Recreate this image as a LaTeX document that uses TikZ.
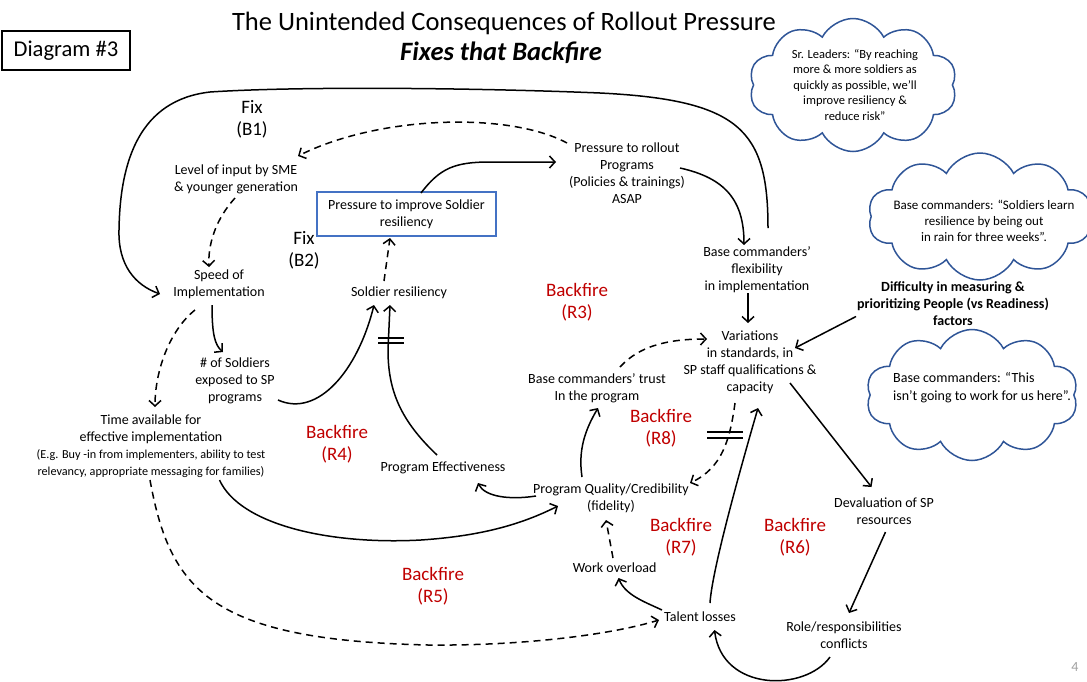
\documentclass[tikz,border=0pt]{standalone}
\usepackage{fontspec}
\setmainfont{Carlito}
\usetikzlibrary{arrows.meta,shapes.symbols}

\definecolor{fbred}{HTML}{C00000}
\definecolor{cloudblue}{HTML}{2F5597}
\definecolor{boxblue}{HTML}{4472C4}
\definecolor{pagegray}{HTML}{A0A0A0}

\tikzset{
  lbl/.style={align=center, inner sep=0pt, font=\fontsize{14}{17}\selectfont},
  looplbl/.style={align=center, inner sep=0pt, text=fbred, font=\fontsize{19}{22}\selectfont},
  fixlbl/.style={align=center, inner sep=0pt, font=\fontsize{19}{22}\selectfont},
  link/.style={line width=1.5pt, -{Straight Barb[length=5.5pt,width=12pt]}},
  opposite/.style={link, dash pattern=on 7pt off 5pt},
  thought/.style={cloud, cloud puffs=10, cloud puff arc=125, aspect=1.6,
    cloud ignores aspect, draw=cloudblue, line width=1.5pt, inner sep=0pt},
  delay/.style={line width=1.5pt},
}

\begin{document}
\begin{tikzpicture}[x=1pt,y=-1pt]
\useasboundingbox (0,0) rectangle (1087,681);

% headings
\node[inner sep=0pt, font=\fontsize{26.5}{30}\selectfont] (title) at (504,23.5)
  {The Unintended Consequences of Rollout Pressure};
\node[inner sep=0pt, font=\fontsize{26.5}{30}\selectfont\bfseries\itshape] (subtitle) at (501,52.5)
  {Fixes that Backfire};
\node[draw, line width=1.2pt, minimum width=128pt, minimum height=39pt,
  font=\fontsize{22.6}{26}\selectfont] (tag) at (66,50.5) {Diagram \#3};

% thought clouds
\node[thought, minimum width=208pt, minimum height=133pt] (cloudA) at (853,85) {};
\node[lbl, font=\fontsize{12.5}{15.5}\selectfont] (cloudAtext) at (855,85)
  {Sr. Leaders: “By reaching\\more \& more soldiers as\\quickly as possible, we’ll\\improve resiliency \&\\reduce risk”};
\node[thought, minimum width=224pt, minimum height=127pt] (cloudB) at (980,216.5) {};
\node[lbl, font=\fontsize{13}{16}\selectfont] (cloudBtext) at (984,221)
  {Base commanders: “Soldiers learn\\resilience by being out\\in rain for three weeks”.};
\node[thought, minimum width=212pt, minimum height=131pt] (cloudC) at (972,395) {};
\node[lbl, align=left, anchor=west, font=\fontsize{14}{18}\selectfont] (cloudCtext) at (893,388)
  {Base commanders: “This\\isn’t going to work for us here”.};

% variables
\node[lbl] (level) at (236,179.5) {Level of input by SME\\\& younger generation};
\node[lbl] (prollout) at (627,173) {Pressure to rollout\\Programs\\(Policies \& trainings)\\ASAP};
\node[lbl, draw=boxblue, line width=1.3pt, minimum width=179pt, minimum height=44pt] (pbox) at (406.5,214)
  {Pressure to improve Soldier\\resiliency};
\node[lbl] (speed) at (219,284.5) {Speed of\\Implementation};
\node[lbl] (soldres) at (399,293) {Soldier resiliency};
\node[lbl] (bcflex) at (757,269.5) {Base commanders’\\flexibility\\in implementation};
\node[lbl] (variations) at (750,362) {Variations\\in standards, in\\SP staff qualifications \&\\capacity};
\node[lbl, font=\fontsize{14}{17}\selectfont\bfseries] (difficulty) at (953,304)
  {Difficulty in measuring \&\\prioritizing People (vs Readiness)\\factors};
\node[lbl] (nsoldiers) at (235,381) {\# of Soldiers\\exposed to SP\\programs};
\node[lbl] (timeavail) at (151,446.5) {Time available for\\effective implementation\\
  {\fontsize{12.2}{16}\selectfont (E.g. Buy -in from implementers, ability to test}\\
  {\fontsize{12.2}{16}\selectfont relevancy, appropriate messaging for families)}};
\node[lbl] (bctrust) at (597,388) {Base commanders’ trust\\In the program};
\node[lbl] (progeff) at (443,468) {Program Effectiveness};
\node[lbl] (progqual) at (611,498.5) {Program Quality/Credibility\\(fidelity)};
\node[lbl] (deval) at (884,511.5) {Devaluation of SP\\resources};
\node[lbl] (workover) at (614.6,568) {Work overload};
\node[lbl] (talent) at (700,617) {Talent losses};
\node[lbl] (role) at (844,635) {Role/responsibilities\\conflicts};

% loop labels
\node[fixlbl] (fixB1) at (252,119) {Fix\\(B1)};
\node[fixlbl] (fixB2) at (304,250.5) {Fix\\(B2)};
\node[looplbl] (r3) at (577,302.5) {Backfire\\(R3)};
\node[looplbl] (r4) at (337,444) {Backfire\\(R4)};
\node[looplbl] (r5) at (433,586) {Backfire\\(R5)};
\node[looplbl] (r6) at (795,537.5) {Backfire\\(R6)};
\node[looplbl] (r7) at (681,537.5) {Backfire\\(R7)};
\node[looplbl] (r8) at (661,428) {Backfire\\(R8)};

\node[inner sep=0pt, text=pagegray, font=\fontsize{14}{17}\selectfont] (pageno) at (1075,667) {4};

% links
\draw[link] ([shift={(11,-41.5)}]bcflex.center) .. controls (768,130) and (740,100) .. (600,93)
  .. controls (480,88) and (300,86) .. (210,92)
  .. controls (140,100) and (120,160) .. (119,230)
  .. controls (118,265) and (135,285) .. ([shift={(-59,9.5)}]speed.center);
\draw[opposite] ([shift={(-60,-30)}]prollout.center) .. controls (510,112) and (380,115) .. ([shift={(62,-23.5)}]level.center);
\draw[opposite] ([shift={(-1,18.5)}]level.center) .. controls (215,220) and (208,245) .. ([shift={(-10,-17.5)}]speed.center);
\draw[link] ([shift={(14.5,-21)}]pbox.center) .. controls (440,168) and (455,162) .. (490,162)
  -- ([shift={(-71,-11)}]prollout.center);
\draw[link] ([shift={(53,-5)}]prollout.center) .. controls (725,178) and (744,200) .. ([shift={(-13,-24.5)}]bcflex.center);
\draw[opposite] ([shift={(-15,-12)}]soldres.center) -- ([shift={(-16.5,24)}]pbox.center);
\draw[link] ([shift={(-7,20.5)}]speed.center) .. controls (212,335) and (215,345) .. ([shift={(-12,-29)}]nsoldiers.center);
\draw[opposite] ([shift={(-24,25.5)}]speed.center) .. controls (170,330) and (155,370) .. ([shift={(4,-39.5)}]timeavail.center);
\draw[link] ([shift={(43,19)}]nsoldiers.center) .. controls (318,418) and (358,370) .. ([shift={(-25,12)}]soldres.center);
\draw[link] ([shift={(-6,-13)}]progeff.center) .. controls (400,420) and (388,390) .. (388,350)
  -- ([shift={(-9,12)}]soldres.center);
\draw[link] ([shift={(-75,-2.5)}]progqual.center) .. controls (510,500) and (485,497) .. ([shift={(35,15)}]progeff.center);
\draw[link] ([shift={(68.5,33.5)}]timeavail.center) .. controls (240,525) and (330,545) .. (421,540)
  .. controls (480,536) and (520,525) .. ([shift={(-53,7.5)}]progqual.center);
\draw[opposite] ([shift={(-1,33.5)}]timeavail.center) .. controls (170,590) and (210,640) .. (428,645)
  .. controls (520,646) and (610,635) .. ([shift={(-41,3)}]talent.center);
\draw[link] ([shift={(-29,-21.5)}]progqual.center) .. controls (578,450) and (585,430) .. ([shift={(1,20)}]bctrust.center);
\draw[opposite] ([shift={(23,-21)}]bctrust.center) .. controls (640,345) and (670,339) .. ([shift={(-43,-23)}]variations.center);
\draw[link] ([shift={(-9,23.5)}]bcflex.center) -- ([shift={(-2,-39)}]variations.center);
\draw[link] ([shift={(-97,12.5)}]difficulty.center) -- ([shift={(45,-14)}]variations.center);
\draw[link] ([shift={(40,21)}]variations.center) -- ([shift={(-12.5,-24.5)}]deval.center);
\draw[link] ([shift={(1.5,20.5)}]deval.center) -- ([shift={(5,-22)}]role.center);
\draw[link] ([shift={(-14,22)}]role.center) .. controls (805,692) and (722,692) .. ([shift={(14.5,13)}]talent.center);
\draw[link] ([shift={(10,-14)}]talent.center) .. controls (712,570) and (740,470) .. ([shift={(8,46)}]variations.center);
\draw[opposite] ([shift={(-15,41)}]variations.center) .. controls (730,440) and (722,468) .. ([shift={(79,-15.5)}]progqual.center);
\draw[opposite] ([shift={(-1.6,-10)}]workover.center) -- ([shift={(-5,21.5)}]progqual.center);
\draw[link] ([shift={(-38,-7)}]talent.center) .. controls (645,602) and (625,595) .. ([shift={(4,10)}]workover.center);

% delay marks
\draw[delay] (378,338) -- (404,338) (378,343) -- (404,343);
\draw[delay] (707,432) -- (743,432) (707,438) -- (743,438);
\end{tikzpicture}
\end{document}
